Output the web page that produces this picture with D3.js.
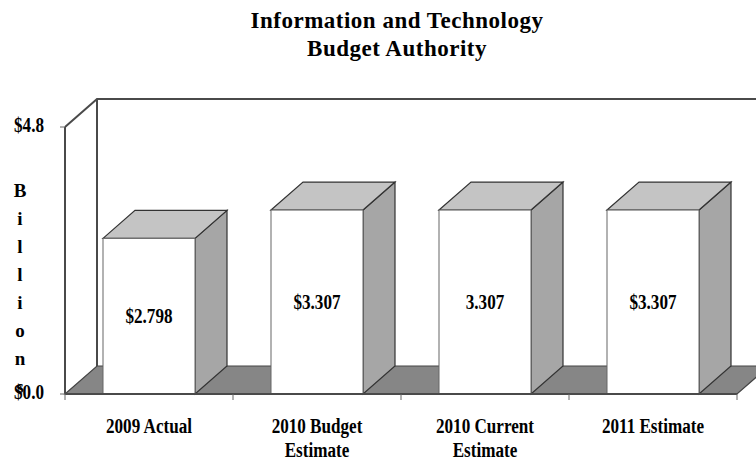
<!DOCTYPE html>
<html>
<head>
<meta charset="utf-8">
<script src="https://cdn.jsdelivr.net/npm/d3@7"></script>
<style>
  body { margin: 0; background: #fff; }
  text { font-family: "Liberation Serif", "Times New Roman", serif; font-weight: bold; fill: #000; }
</style>
</head>
<body>
<div id="chart"></div>
<script>
// Data for the chart
const categories = [["2009 Actual"], ["2010 Budget", "Estimate"], ["2010 Current", "Estimate"], ["2011 Estimate"]];
const values = [2.798, 3.307, 3.307, 3.307];
const valueLabels = ["$2.798", "$3.307", "3.307", "$3.307"];
const yTicks = [0, 4.8];
const yTickLabels = ["$0.0", "$4.8"];
const titleLines = ["Information and Technology", "Budget Authority"];
const yTitle = "Billions";

const W = 756, H = 462;
const plotLeft = 65, plotRight = 737, plotBottom = 394;
const depth = { dx: 32, dy: -28 };

const svg = d3.select("#chart")
    .append("svg")
    .attr("width", W)
    .attr("height", H);

// narrow the glyphs a bit so the text is tall like the original
function squeeze(sel, k = 0.855) {
    sel.each(function () {
        const w = this.getComputedTextLength();
        d3.select(this).attr("textLength", w * k).attr("lengthAdjust", "spacingAndGlyphs");
    });
}

// Scales
const keys = categories.map(c => c.join(" "));
const x = d3.scaleBand()
    .domain(keys)
    .range([plotLeft, plotRight])
    .paddingInner(0.4524)
    .paddingOuter(0.2262);

const y = d3.scaleLinear()
    .domain([0, 4.8])
    .range([plotBottom, 127]);

const plotTop = y(4.8);

// Title
svg.append("g").selectAll("text")
    .data(titleLines)
    .enter()
    .append("text")
    .attr("x", 397)
    .attr("y", (d, i) => 28 + i * 28)
    .attr("text-anchor", "middle")
    .style("font-size", "23px")
    .style("letter-spacing", "0.5px")
    .text(d => d);

// Walls (back + side lines)
const wall = svg.append("g")
    .attr("fill", "none")
    .attr("stroke", "#4a4a4a")
    .attr("stroke-width", 2);
wall.append("path")
    .attr("d", `M${plotLeft},${plotTop} L${plotLeft + depth.dx},${plotTop + depth.dy} L${W + 20},${plotTop + depth.dy}`);
wall.append("line")
    .attr("x1", plotLeft + depth.dx).attr("y1", plotTop + depth.dy)
    .attr("x2", plotLeft + depth.dx).attr("y2", plotBottom + depth.dy);

// Floor
svg.append("path")
    .attr("d", `M${plotLeft},${plotBottom} L${plotLeft + depth.dx},${plotBottom + depth.dy} L${plotRight + depth.dx},${plotBottom + depth.dy} L${plotRight},${plotBottom} Z`)
    .attr("fill", "#868686")
    .attr("stroke", "#444")
    .attr("stroke-width", 1.2);

// Bars
const bars = svg.selectAll(".bar")
    .data(values)
    .enter()
    .append("g")
    .attr("class", "bar");

bars.append("path") // side face
    .attr("d", (d, i) => {
        const x1 = x(keys[i]) + x.bandwidth();
        return `M${x1},${plotBottom} L${x1 + depth.dx},${plotBottom + depth.dy} L${x1 + depth.dx},${y(d) + depth.dy} L${x1},${y(d)} Z`;
    })
    .attr("fill", "#a6a6a6")
    .attr("stroke", "#333")
    .attr("stroke-width", 1.2);

bars.append("path") // top face
    .attr("d", (d, i) => {
        const x0 = x(keys[i]), x1 = x0 + x.bandwidth();
        return `M${x0},${y(d)} L${x0 + depth.dx},${y(d) + depth.dy} L${x1 + depth.dx},${y(d) + depth.dy} L${x1},${y(d)} Z`;
    })
    .attr("fill", "#c4c4c4")
    .attr("stroke", "#333")
    .attr("stroke-width", 1.2);

bars.append("rect") // front face
    .attr("x", (d, i) => x(keys[i]))
    .attr("y", d => y(d))
    .attr("width", x.bandwidth())
    .attr("height", d => plotBottom - y(d))
    .attr("fill", "#fff")
    .attr("stroke", "#666")
    .attr("stroke-width", 1);

bars.append("text")
    .attr("x", (d, i) => x(keys[i]) + x.bandwidth() / 2)
    .attr("y", d => (y(d) + plotBottom) / 2)
    .attr("dy", "0.35em")
    .attr("text-anchor", "middle")
    .style("font-size", "20px")
    .text((d, i) => valueLabels[i])
    .call(squeeze);

// Front axis lines
const axes = svg.append("g")
    .attr("stroke", "#4a4a4a")
    .attr("stroke-width", 2);
axes.append("line")
    .attr("x1", plotLeft).attr("y1", plotTop)
    .attr("x2", plotLeft).attr("y2", plotBottom);
axes.append("line")
    .attr("x1", plotLeft).attr("y1", plotBottom)
    .attr("x2", plotRight).attr("y2", plotBottom);

// Category ticks
svg.append("g").selectAll("line")
    .data(d3.range(keys.length + 1))
    .enter()
    .append("line")
    .attr("x1", i => plotLeft + x.step() * i)
    .attr("x2", i => plotLeft + x.step() * i)
    .attr("y1", plotBottom)
    .attr("y2", plotBottom + 6)
    .attr("stroke", "#666");

// Y ticks
const yt = svg.append("g").selectAll("g")
    .data(yTicks)
    .enter()
    .append("g");
yt.append("line")
    .attr("x1", plotLeft - 5).attr("x2", plotLeft)
    .attr("y1", d => y(d)).attr("y2", d => y(d))
    .attr("stroke", "#666");
yt.append("text")
    .attr("x", 44)
    .attr("y", d => y(d) - 2)
    .attr("dy", "0.35em")
    .attr("text-anchor", "end")
    .style("font-size", "20px")
    .text((d, i) => yTickLabels[i])
    .call(squeeze);

// Y title, stacked letters
svg.append("g").selectAll("text")
    .data(yTitle.split(""))
    .enter()
    .append("text")
    .attr("x", 20)
    .attr("y", (d, i) => 197 + i * 28)
    .attr("text-anchor", "middle")
    .style("font-size", "19px")
    .text(d => d);

// Category labels, one text per line
const catLines = [];
categories.forEach((c, i) => c.forEach((line, j) => catLines.push({ line, i, j })));
svg.append("g").selectAll("text")
    .data(catLines)
    .enter()
    .append("text")
    .attr("x", d => x(keys[d.i]) + x.bandwidth() / 2)
    .attr("y", d => 433 + d.j * 24)
    .attr("text-anchor", "middle")
    .style("font-size", "20px")
    .text(d => d.line)
    .call(squeeze);
</script>
</body>
</html>
